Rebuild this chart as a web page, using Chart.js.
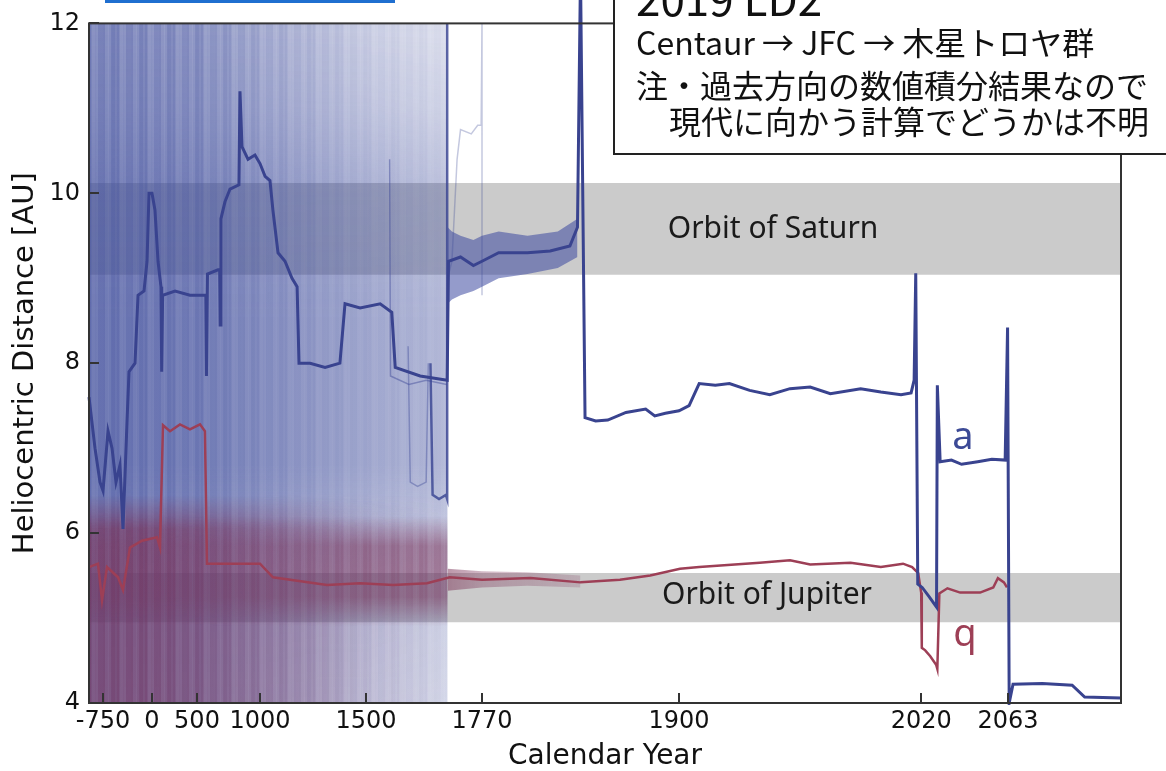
<!DOCTYPE html>
<html>
<head>
<meta charset="utf-8">
<title>2019 LD2 heliocentric distance</title>
<script src="https://cdn.jsdelivr.net/npm/chart.js@4.4.1/dist/chart.umd.min.js"></script>
<style>
  html, body { margin: 0; padding: 0; background: #fff; }
  #wrap { width: 1166px; height: 771px; }
</style>
</head>
<body>
<div id="wrap"><canvas id="ld2Chart" width="1166" height="771"></canvas></div>
<script>
// tick labels
const tickYears = [-750, 0, 500, 1000, 1500, 1770, 1900, 2020, 2063];
const distStep = 2;

// the year axis is not linear: break years and their place along the 1032px axis
const axisBreakYears = [-965, -750, 0, 500, 1000, 1500, 1770, 1900, 2119];
const axisBreakPos = [0, 14, 63, 108, 171, 277, 393, 590, 1032];

// nominal orbit, semi-major axis a [AU]
const aYears = [-965, -873, -796, -750, -673, -612, -551, -490, -444, -383, -352, -260, -214, -122, -76, -46, 0, 33, 67, 100,
  105, 110, 118, 256, 422, 563, 570, 575, 583, 667, 680, 684, 690, 722, 762, 833, 841, 857, 905, 960, 1000, 1024, 1047, 1061,
  1085, 1118, 1151, 1175, 1184, 1236, 1307, 1377, 1401, 1472, 1533, 1560, 1568, 1626, 1689, 1692, 1720, 1750, 1770, 1781, 1800,
  1815, 1828, 1833, 1835, 1838, 1845, 1853, 1865, 1878, 1884, 1891, 1900, 1905, 1910, 1918, 1925, 1935, 1945, 1955, 1965, 1975,
  1990, 2000, 2010, 2015, 2016.5, 2017.3, 2018.3, 2020.5, 2024, 2027.6, 2028.0, 2029.4, 2035, 2040, 2048, 2055, 2061.6, 2062.8,
  2063.6, 2065.5, 2080, 2094.8, 2101, 2119];
const aValues = [7.6, 7.0, 6.6, 6.5, 7.2, 7.0, 6.6, 6.8, 6.05, 7.3, 7.9, 8.0, 8.8, 8.85, 9.2, 10.0, 10.0, 9.8, 9.2, 8.9,
  8.85, 7.9, 8.8, 8.85, 8.8, 8.8, 8.8, 7.85, 9.05, 9.1, 9.1, 8.45, 9.7, 9.9, 10.05, 10.1, 11.2, 10.55, 10.4, 10.45, 10.35, 10.2, 10.15, 9.8,
  9.3, 9.2, 9.0, 8.9, 8.0, 8.0, 7.95, 8.0, 8.7, 8.65, 8.7, 8.6, 7.95, 7.85, 7.8, 9.2, 9.25, 9.15, 9.2, 9.3, 9.3,
  9.32, 9.38, 9.6, 12.6, 7.36, 7.32, 7.33, 7.42, 7.46, 7.38, 7.41, 7.44, 7.5, 7.76, 7.74, 7.76, 7.68, 7.63, 7.7, 7.72, 7.64,
  7.7, 7.66, 7.63, 7.65, 7.8, 9.06, 5.4, 5.36, 5.25, 5.13, 7.74, 6.84, 6.86, 6.81, 6.84, 6.87, 6.86, 8.42,
  4.0, 4.22, 4.23, 4.21, 4.07, 4.06];

// nominal orbit, perihelion distance q [AU]
const qYears = [-965, -827, -765, -689, -520, -444, -337, -153, 56, 89, 122, 200, 311, 422, 524, 563, 579, 1000, 1061, 1316,
  1472, 1563, 1642, 1695, 1770, 1802, 1835, 1861, 1881, 1900.5, 1910, 1940, 1955, 1965, 1985, 2000, 2011, 2015.5, 2018.5,
  2020, 2020.3, 2022, 2024.5, 2027.4, 2028, 2029, 2033, 2039.3, 2049.2, 2055.7, 2058, 2061, 2062.5];
const qValues = [5.6, 5.64, 5.21, 5.6, 5.48, 5.33, 5.83, 5.91, 5.95, 5.83, 7.27, 7.2, 7.28, 7.22, 7.28, 7.2, 5.64, 5.64, 5.48, 5.39,
  5.41, 5.39, 5.41, 5.48, 5.45, 5.47, 5.42, 5.45, 5.5, 5.58, 5.6, 5.65, 5.68, 5.63, 5.65, 5.6, 5.64, 5.6, 5.53,
  5.3, 4.65, 4.62, 4.55, 4.45, 4.4, 5.29, 5.35, 5.3, 5.3, 5.36, 5.47, 5.42, 5.36];

// a few clones that stand out near the end of the cloud
const cloneAYears = [1555, 1557, 1600, 1640, 1688];
const cloneAValues = [10.4, 7.85, 7.75, 7.8, 7.75];
const cloneBYears = [1598, 1603, 1620, 1640, 1645];
const cloneBValues = [8.2, 6.6, 6.55, 6.6, 8.0];
const cloneCYears = [1650, 1655, 1670, 1686, 1689, 1689];
const cloneCValues = [8.0, 6.45, 6.4, 6.45, 6.4, 12];
const cloneDYears = [1690, 1700, 1712, 1720, 1745, 1760, 1768, 1770, 1770];
const cloneDValues = [9.0, 9.2, 10.4, 10.75, 10.7, 10.8, 10.8, 12, 8.8];

// extent of the clone clouds
const cloudYears = [-965, 1690];
const blueCloudTop = [12, 12];
const redCloudTop = [6.45, 6.45];
const aBandYears = [1690, 1700, 1720, 1750, 1770, 1781, 1800, 1820, 1833];
const aBandTop = [9.6, 9.55, 9.5, 9.45, 9.5, 9.55, 9.5, 9.55, 9.7];
const aBandBottom = [8.7, 8.75, 8.8, 8.85, 8.9, 9.0, 9.05, 9.12, 9.25];
const qBandYears = [1690, 1770, 1800, 1835];
const qBandTop = [5.58, 5.55, 5.54, 5.5];
const qBandBottom = [5.32, 5.36, 5.38, 5.36];

// orbits of the giant planets [AU]
const saturnOrbit = [9.04, 10.12];
const jupiterOrbit = [4.95, 5.53];

function pts(xs, ys) {
  return xs.map((x, i) => ({ x: x, y: ys[i] }));
}

function yearToDecimal(year) {
  const b = axisBreakYears, p = axisBreakPos, w = p[p.length - 1];
  let i = 0;
  while (i < b.length - 2 && year > b[i + 1]) i++;
  return (p[i] + (year - b[i]) / (b[i + 1] - b[i]) * (p[i + 1] - p[i])) / w;
}

function decimalToYear(dec) {
  const b = axisBreakYears, p = axisBreakPos, pos = dec * p[p.length - 1];
  let i = 0;
  while (i < p.length - 2 && pos > p[i + 1]) i++;
  return b[i] + (pos - p[i]) / (p[i + 1] - p[i]) * (b[i + 1] - b[i]);
}

class YearScale extends Chart.LinearScale {
  getPixelForValue(value) {
    return this.getPixelForDecimal(yearToDecimal(value));
  }
  getValueForPixel(pixel) {
    return decimalToYear(this.getDecimalForPixel(pixel));
  }
}
YearScale.id = 'year';
YearScale.defaults = Chart.LinearScale.defaults;
Chart.register(YearScale);

function clamp01(t) {
  return Math.min(1, Math.max(0, t));
}

// vertical streaks of the many overlapping clones (a texture, widths in px)
const streakWidths = [2, 1, 3, 1, 2, 4, 1, 2, 3, 1, 2, 1, 3, 2];
const streakAlphas = [1, 0.86, 0.95, 0.8, 1, 0.9, 0.83, 0.97, 0.87, 0.93, 0.81, 0.95, 0.85, 0.98];

// cloud density: a fade along the years times a profile along the distance
function cloudFill(rgb, yearStops, distStops, streaky) {
  return function (context) {
    const chart = context.chart;
    const area = chart.chartArea;
    if (!area) return 'rgba(' + rgb + ',0.3)';
    const xs = chart.scales.x, ys = chart.scales.y;
    const off = document.createElement('canvas');
    off.width = chart.width;
    off.height = chart.height;
    const c = off.getContext('2d');
    const gx = c.createLinearGradient(area.left, 0, area.right, 0);
    yearStops.forEach(function (s) {
      gx.addColorStop(clamp01((xs.getPixelForValue(s[0]) - area.left) / (area.right - area.left)), 'rgba(' + rgb + ',' + s[1] + ')');
    });
    c.fillStyle = gx;
    c.fillRect(0, 0, off.width, off.height);
    if (distStops) {
      const gy = c.createLinearGradient(0, area.top, 0, area.bottom);
      distStops.forEach(function (s) {
        gy.addColorStop(clamp01((ys.getPixelForValue(s[0]) - area.top) / (area.bottom - area.top)), 'rgba(0,0,0,' + s[1] + ')');
      });
      c.globalCompositeOperation = 'destination-in';
      c.fillStyle = gy;
      c.fillRect(0, 0, off.width, off.height);
    }
    if (streaky) {
      const mask = document.createElement('canvas');
      mask.width = off.width;
      mask.height = off.height;
      const m = mask.getContext('2d');
      m.fillStyle = '#000';
      m.fillRect(0, 0, area.left, mask.height);
      let px = area.left, k = 0;
      while (px < area.right) {
        const w = streakWidths[k % streakWidths.length];
        m.fillStyle = 'rgba(0,0,0,' + streakAlphas[(k * 5) % streakAlphas.length] + ')';
        m.fillRect(px, 0, w, mask.height);
        px += w;
        k++;
      }
      c.globalCompositeOperation = 'destination-in';
      c.drawImage(mask, 0, 0);
    }
    return chart.ctx.createPattern(off, 'no-repeat');
  };
}

const BLUE = '62,76,155';
const RED = '122,48,86';

function lineSet(data, color, width, order) {
  return { data: data, borderColor: color, borderWidth: width, pointRadius: 0, fill: false, order: order, tension: 0 };
}

function band(data, color, order, fill) {
  return { data: data, borderWidth: 0, borderColor: 'rgba(0,0,0,0)', pointRadius: 0, order: order,
    fill: fill === undefined ? '+1' : fill, backgroundColor: color };
}

function hiddenEdge(data, order) {
  return { data: data, borderWidth: 0, borderColor: 'rgba(0,0,0,0)', pointRadius: 0, fill: false, order: order };
}

const datasets = [
  Object.assign(lineSet(pts(aYears, aValues), '#39438f', 3, 0), { clip: { left: 2, top: 40, right: 2, bottom: 2 } }),
  lineSet(pts(qYears, qValues), '#9d3f56', 2.5, 1),
  lineSet(pts(cloneAYears, cloneAValues), 'rgba(60,72,150,0.45)', 1.5, 2),
  lineSet(pts(cloneBYears, cloneBValues), 'rgba(60,72,150,0.4)', 1.5, 2),
  lineSet(pts(cloneCYears, cloneCValues), 'rgba(55,66,145,0.8)', 2.5, 2),
  lineSet(pts(cloneDYears, cloneDValues), 'rgba(60,72,150,0.3)', 1.5, 2),
  // clone band round a and q after the cloud
  band(pts(aBandYears, aBandTop), 'rgba(60,72,160,0.55)', 5),
  hiddenEdge(pts(aBandYears, aBandBottom), 5),
  band(pts(qBandYears, qBandTop), cloudFill(RED, [[1690, 0.5], [1770, 0.35], [1835, 0.2]]), 5),
  hiddenEdge(pts(qBandYears, qBandBottom), 5),
  // red clone cloud: dense band near Jupiter plus a haze that thins out
  band(pts(cloudYears, redCloudTop), cloudFill(RED, [[-965, 0.2], [500, 0.25], [1000, 0.35], [1300, 0.45], [1500, 0.55], [1690, 0.55]],
    [[6.2, 0], [5.85, 1], [5.25, 1], [4.9, 0]], true), 6, { value: 4 }),
  band(pts(cloudYears, redCloudTop), cloudFill(RED, [[-965, 0.66], [0, 0.64], [500, 0.55], [1000, 0.4], [1300, 0.24], [1500, 0.1], [1650, 0.03], [1690, 0]],
    [[6.45, 0], [6.05, 1], [4, 1]], true), 7, { value: 4 }),
  // blue clone cloud
  band(pts(cloudYears, blueCloudTop), cloudFill(BLUE, [[-965, 0.32], [500, 0.32], [1000, 0.32], [1300, 0.3], [1500, 0.3], [1690, 0.25]],
    [[12, 0], [11, 0.3], [10, 0.8], [8.5, 1], [6.8, 1], [5.5, 0.4], [4, 0.2]]), 8, { value: 4 }),
  band(pts(cloudYears, blueCloudTop), cloudFill(BLUE, [[-965, 0.74], [500, 0.66], [1000, 0.52], [1300, 0.4], [1500, 0.3], [1690, 0.2]],
    null, true), 9, { value: 4 }),
  // planet orbits
  band(pts([-965, 2119], [saturnOrbit[1], saturnOrbit[1]]), '#cbcbcb', 12, { value: saturnOrbit[0] }),
  band(pts([-965, 2119], [jupiterOrbit[1], jupiterOrbit[1]]), '#cbcbcb', 12, { value: jupiterOrbit[0] })
];

const framePlugin = {
  id: 'frame',
  afterDatasetsDraw(chart) {
    const ctx = chart.ctx, a = chart.chartArea, x = chart.scales.x, y = chart.scales.y;
    ctx.save();
    // labels on the plot
    ctx.textAlign = 'center';
    ctx.textBaseline = 'middle';
    ctx.fillStyle = '#1a1a1a';
    ctx.font = '30px "Noto Sans"';
    ctx.fillText('Orbit of Saturn', x.getPixelForValue(1946.6), y.getPixelForValue(9.58));
    ctx.fillText('Orbit of Jupiter', x.getPixelForValue(1943.6), y.getPixelForValue(5.27));
    ctx.font = '38px "Noto Sans"';
    ctx.fillStyle = '#3c4a96';
    ctx.fillText('a', x.getPixelForValue(2040.7), y.getPixelForValue(7.12));
    ctx.fillStyle = '#9d3f56';
    ctx.fillText('q', x.getPixelForValue(2041.7), y.getPixelForValue(4.8));
    // frame and inward ticks
    ctx.strokeStyle = '#333';
    ctx.lineWidth = 2;
    ctx.strokeRect(a.left, a.top, a.right - a.left, a.bottom - a.top);
    ctx.beginPath();
    x.ticks.forEach(function (t) {
      const px = Math.round(x.getPixelForValue(t.value));
      ctx.moveTo(px, a.bottom);
      ctx.lineTo(px, a.bottom - 10);
    });
    y.ticks.forEach(function (t) {
      const py = Math.round(y.getPixelForValue(t.value));
      ctx.moveTo(a.left, py);
      ctx.lineTo(a.left + 10, py);
    });
    ctx.stroke();
    ctx.restore();
  },
  afterDraw(chart) {
    const ctx = chart.ctx;
    ctx.save();
    // note box
    ctx.fillStyle = '#fff';
    ctx.fillRect(614, -4, 600, 158);
    ctx.strokeStyle = '#222';
    ctx.lineWidth = 2;
    ctx.strokeRect(614, -4, 600, 158);
    ctx.fillStyle = '#111';
    ctx.textAlign = 'left';
    ctx.textBaseline = 'alphabetic';
    ctx.font = '44px "Noto Sans CJK JP"';
    ctx.fillText('2019 LD2', 636, 16);
    ctx.font = '32px "Noto Sans CJK JP"';
    ctx.fillText('Centaur → JFC → 木星トロヤ群', 636, 55);
    ctx.fillText('注・過去方向の数値積分結果なので', 636, 98);
    ctx.fillText('現代に向かう計算でどうかは不明', 669, 134);
    // blue bar cut off at the top
    ctx.fillStyle = '#1f6fd0';
    ctx.fillRect(105, 0, 290, 3);
    ctx.restore();
  }
};

new Chart(document.getElementById('ld2Chart').getContext('2d'), {
  type: 'line',
  data: { datasets: datasets },
  options: {
    responsive: false,
    animation: false,
    events: [],
    layout: { padding: { left: 0, top: 22, right: 45, bottom: 0 } },
    plugins: { legend: { display: false }, tooltip: { enabled: false } },
    scales: {
      x: {
        type: 'year',
        min: axisBreakYears[0],
        max: axisBreakYears[axisBreakYears.length - 1],
        afterBuildTicks: function (s) { s.ticks = tickYears.map(v => ({ value: v })); },
        afterFit: function (s) { s.height = 68; },
        grid: { display: false, drawTicks: false },
        border: { display: false },
        ticks: {
          autoSkip: false, maxRotation: 0, padding: 4,
          font: { family: '"DejaVu Sans"', size: 24 }, color: '#111',
          callback: function (v) { return String(v); }
        },
        title: { display: true, text: 'Calendar Year', font: { family: '"DejaVu Sans"', size: 28, lineHeight: 1.0 }, color: '#111', padding: 0 }
      },
      y: {
        min: 4,
        max: 12,
        afterFit: function (s) { s.width = 89; },
        grid: { display: false, drawTicks: false },
        border: { display: false },
        ticks: { stepSize: distStep, padding: 9, font: { family: '"DejaVu Sans"', size: 24 }, color: '#111' },
        title: { display: true, text: 'Heliocentric Distance [AU]', font: { family: '"DejaVu Sans"', size: 29 }, color: '#111', padding: { top: 8, bottom: 0 } }
      }
    }
  },
  plugins: [framePlugin]
});
</script>
</body>
</html>
